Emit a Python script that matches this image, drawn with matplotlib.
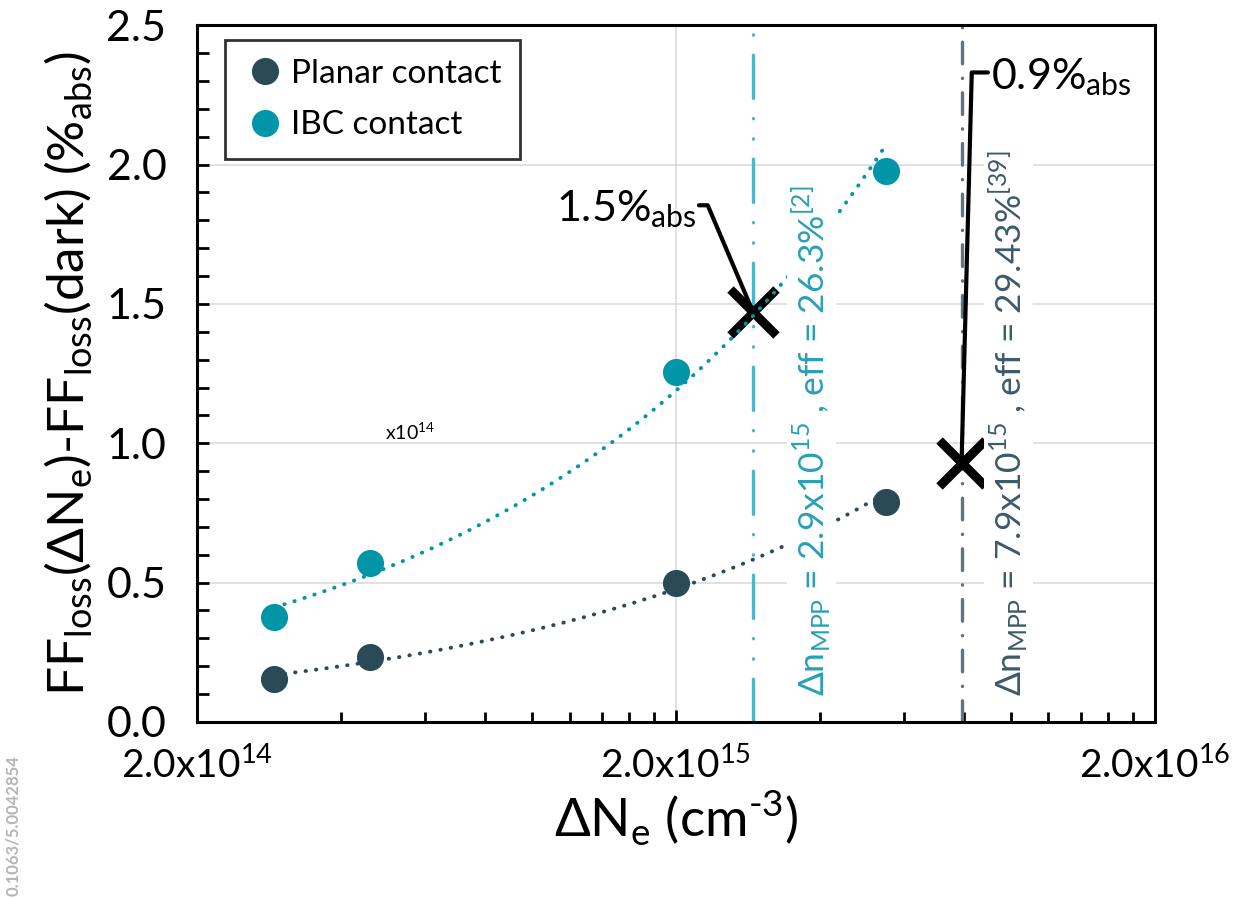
import matplotlib
matplotlib.use('Agg')
import matplotlib.pyplot as plt
import numpy as np
from matplotlib.ticker import FixedLocator, FuncFormatter, MultipleLocator

plt.rcParams['font.family'] = ['Lato', 'DejaVu Sans']
plt.rcParams['mathtext.fontset'] = 'custom'
plt.rcParams['mathtext.rm'] = 'Lato'

# excess carrier density (cm^-3) and FF loss difference (%abs)
ne = [2.9e14, 4.6e14, 2.0e15, 5.5e15]
ff_planar = [0.155, 0.234, 0.50, 0.788]
ff_ibc = [0.378, 0.572, 1.255, 1.975]

# maximum power point densities and the FF loss there
mpp_ne = [2.9e15, 7.9e15]
mpp_ff = [1.47, 0.93]
mpp_eff = ['26.3', '29.43']
mpp_ref = ['2', '39']

c_planar = '#2a4a58'
c_ibc = '#0096a8'
c_line_ibc = '#4db6c8'
c_line_planar = '#5f7480'
c_txt_ibc = '#2a9fb5'
c_txt_planar = '#3d5a68'

fig = plt.figure(figsize=(12.47, 8.98), dpi=100)
ax = fig.add_axes([0.158, 0.196, 0.768, 0.776])

ax.set_xscale('log')
ax.set_xlim(2e14, 2e16)
ax.set_ylim(0, 2.5)

# power-law trend lines
for y, col in [(ff_planar, c_planar), (ff_ibc, c_ibc)]:
    b, a = np.polyfit(np.log(ne), np.log(y), 1)
    xs = np.geomspace(ne[0], ne[-1], 200)
    ax.plot(xs, np.exp(a) * xs ** b, color=col, lw=2.8,
            linestyle=(0, (0.1, 2.6)), dash_capstyle='round', zorder=3)

ax.plot(ne, ff_planar, 'o', ms=18.5, color=c_planar, ls='none', zorder=4, label='Planar contact')
ax.plot(ne, ff_ibc, 'o', ms=18.5, color=c_ibc, ls='none', zorder=4, label='IBC contact')

# MPP markers
ax.axvline(mpp_ne[0], color=c_line_ibc, lw=2.4, zorder=1.5,
           linestyle=(0, (13, 6, 0.1, 6, 0.1, 6)), dash_capstyle='round')
ax.axvline(mpp_ne[1], color=c_line_planar, lw=2.4, zorder=1.5,
           linestyle=(0, (6.5, 4.3, 0.1, 4.3)), dash_capstyle='round')
ax.plot(mpp_ne, mpp_ff, 'x', color='black', ms=33, mew=6.5, ls='none', zorder=2.5)

ax.annotate('%.1f%%' % mpp_ff[0] + r'$_\mathregular{abs}$', xy=(mpp_ne[0], mpp_ff[0]),
            xytext=(-41, 74), textcoords='offset points', ha='right', va='center',
            fontsize=31, zorder=5,
            arrowprops=dict(arrowstyle='-', lw=3, color='black', relpos=(1, 0.6),
                            shrinkA=0, shrinkB=0,
                            connectionstyle='angle,angleA=0,angleB=113,rad=0'))
ax.annotate('%.1f%%' % mpp_ff[1] + r'$_\mathregular{abs}$', xy=(mpp_ne[1], mpp_ff[1]),
            xytext=(21, 278), textcoords='offset points', ha='left', va='center',
            fontsize=31, zorder=5,
            arrowprops=dict(arrowstyle='-', lw=3, color='black', relpos=(0, 0.6),
                            shrinkA=0, shrinkB=0,
                            connectionstyle='angle,angleA=180,angleB=88.5,rad=0'))

# rotated MPP labels, white box hides trend lines behind them
for i, (col, dx) in enumerate([(c_txt_ibc, 42), (c_txt_planar, 34)]):
    mant = mpp_ne[i] / 1e15
    s = (r'$\Delta$n$_\mathregular{MPP}$ = %.1fx10$^\mathregular{15}$ , eff = %s%%'
         % (mant, mpp_eff[i]) + r'$^\mathregular{[%s]}$' % mpp_ref[i])
    ax.annotate(s, xy=(mpp_ne[i], 0), xytext=(dx, 19), textcoords='offset points',
                rotation=90, ha='center', va='bottom', fontsize=25.5, color=col,
                zorder=3.5, bbox=dict(facecolor='white', edgecolor='none', pad=2))

ax.text(0.222, 0.416, r'x10$^\mathregular{14}$', transform=ax.transAxes,
        ha='center', va='center', fontsize=14)

# axes styling
ax.xaxis.set_major_locator(FixedLocator([2e14, 2e15, 2e16]))
minor = [k * 1e14 for k in range(4, 20, 2)] + [k * 1e15 for k in range(4, 20, 2)]
ax.xaxis.set_minor_locator(FixedLocator(minor))
ax.xaxis.set_minor_formatter(FuncFormatter(lambda v, p: ''))
ax.xaxis.set_major_formatter(FuncFormatter(
    lambda v, p: r'2.0x10$^\mathregular{%d}$' % round(np.log10(v / 2))))
ax.yaxis.set_major_locator(MultipleLocator(0.5))
ax.yaxis.set_minor_locator(MultipleLocator(0.1))
ax.yaxis.set_major_formatter(FuncFormatter(lambda v, p: '%.1f' % v))

ax.tick_params(axis='x', which='major', direction='in', length=9, width=2,
               labelsize=28, pad=18)
ax.tick_params(axis='x', which='minor', direction='in', length=7, width=2)
ax.tick_params(axis='y', which='both', direction='in', length=8.5, width=2,
               labelsize=31, pad=22)
for sp in ax.spines.values():
    sp.set_linewidth(2.2)
    sp.set_color('black')

ax.grid(True, which='major', color='#d9d9d9', lw=1.1, zorder=0)
ax.set_axisbelow(True)

ax.set_xlabel(r'$\Delta$N$_\mathregular{e}$ (cm$^\mathregular{\text{-}3}$)', fontsize=38, labelpad=2)
ax.set_ylabel(r'FF$_\mathregular{loss}$($\Delta$N$_\mathregular{e}$)-FF$_\mathregular{loss}$(dark) (%$_\mathregular{abs}$)',
              fontsize=37, labelpad=8)

leg = ax.legend(loc='upper left', bbox_to_anchor=(0.029, 0.978), borderaxespad=0,
                fontsize=24, frameon=True, fancybox=False, handletextpad=0.15,
                markerscale=1.0, borderpad=0.55, labelspacing=0.65, handlelength=1.3)
leg.get_frame().set_edgecolor('black')
leg.get_frame().set_linewidth(2)

fig.text(0.004, 0.002, '0.1063/5.0042854', rotation=90, ha='left', va='bottom',
         fontsize=12, color='#b5b5b5', fontweight='bold')

fig.savefig('out.png', dpi=100)
